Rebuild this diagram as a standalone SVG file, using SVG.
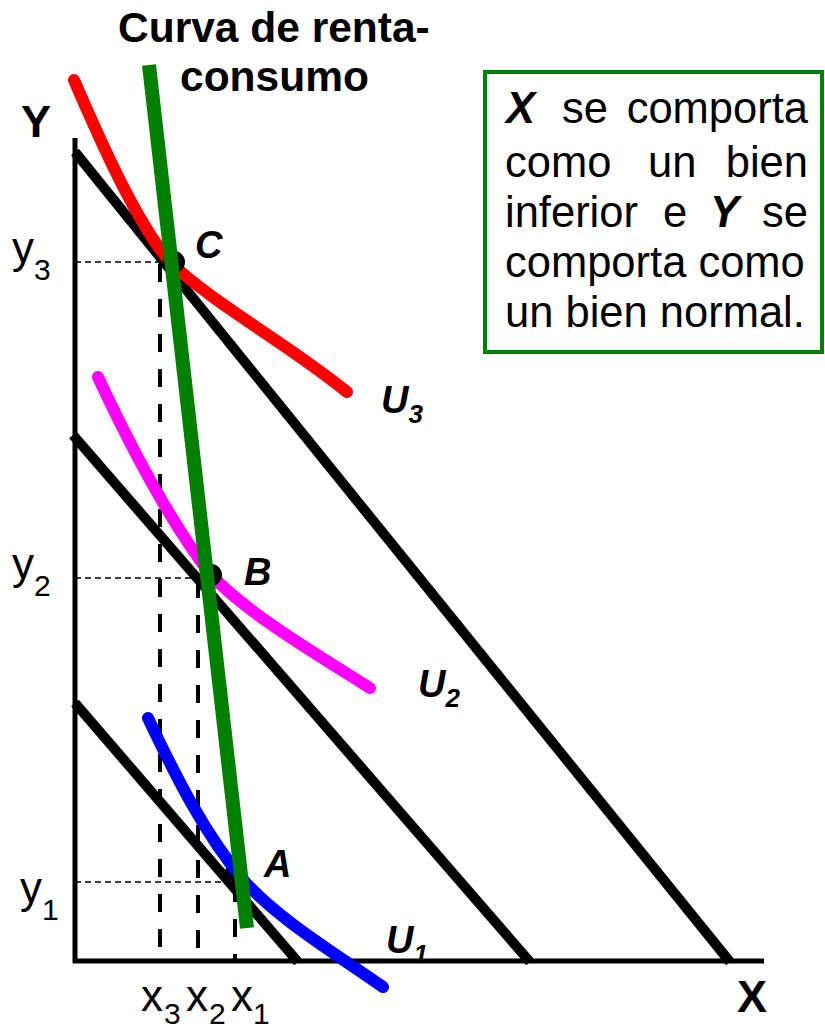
<svg xmlns="http://www.w3.org/2000/svg" width="825" height="1028" viewBox="0 0 825 1028">
<style>
text{font-family:"Liberation Sans",Arial,sans-serif;fill:#000}
.b{font-weight:bold}
.bi{font-weight:bold;font-style:italic}
.axis{stroke:#000;stroke-width:5;fill:none}
.budget{stroke:#000;stroke-width:10;fill:none}
.vd{stroke:#000;stroke-width:4;stroke-dasharray:18 17;fill:none}
.hd{stroke:#000;stroke-width:1.5;stroke-dasharray:6 4;fill:none}
.ic{fill:none;stroke-width:12;stroke-linecap:round;stroke-linejoin:round}
.sub{font-size:30px}
</style>
<rect width="825" height="1028" fill="#fff"/>
<g id="axes">
<line class="axis" x1="75" y1="138" x2="75" y2="963"/>
<line class="axis" x1="73" y1="961" x2="764" y2="961"/>
</g>
<g id="guides">
<line class="hd" x1="75" y1="262" x2="172" y2="262"/>
<line class="hd" x1="75" y1="578" x2="208" y2="578"/>
<line class="hd" x1="75" y1="882" x2="238" y2="882"/>
<line class="vd" x1="160" y1="264" x2="160" y2="961"/>
<line class="vd" x1="198" y1="580" x2="198" y2="961"/>
<line class="vd" x1="235" y1="884" x2="235" y2="961"/>
</g>
<g id="budget-lines">
<line class="budget" x1="75" y1="152" x2="730" y2="962"/>
<line class="budget" x1="73" y1="435" x2="530" y2="962"/>
<line class="budget" x1="75" y1="703" x2="298" y2="962"/>
</g>
<g id="dotA"><circle cx="234" cy="872" r="9"/></g>
<g id="U1"><path class="ic" stroke="#0000ff" d="M148,718 C175,775 205,835 245,882 C280,920 330,950 383,987"/></g>
<g id="U2"><path class="ic" stroke="#ff00ff" d="M98,377 C125,435 165,515 211,575 C250,615 310,650 370,688"/></g>
<g id="U3"><path class="ic" stroke="#ff0000" d="M74,80 C100,140 135,220 170,262 C215,305 290,345 347,392"/></g>
<g id="dotC"><circle cx="174" cy="262" r="11"/></g>
<g id="dotB"><circle cx="211" cy="575" r="11"/></g>
<g id="curva-renta-consumo"><line x1="149" y1="65" x2="247" y2="928" stroke="#008000" stroke-width="14"/></g>
<g id="labels">
<text class="b" x="118" y="42" font-size="42.5">Curva de renta-</text>
<text class="b" x="180" y="91" font-size="42.5">consumo</text>
<text class="b" x="21" y="137" font-size="45">Y</text>
<text class="b" x="737" y="1012" font-size="45">X</text>
<text x="12" y="263" font-size="44">y<tspan class="sub" dy="17">3</tspan></text>
<text x="12" y="579" font-size="44">y<tspan class="sub" dy="17">2</tspan></text>
<text x="20" y="903" font-size="44">y<tspan class="sub" dy="17">1</tspan></text>
<text font-size="44">
<tspan x="141" y="1011">x</tspan><tspan class="sub" x="164" y="1024">3</tspan>
<tspan x="186" y="1011">x</tspan><tspan class="sub" x="209" y="1024">2</tspan>
<tspan x="231" y="1011">x</tspan><tspan class="sub" x="253" y="1024">1</tspan>
</text>
<text class="bi" x="195" y="258" font-size="38">C</text>
<text class="bi" x="244" y="585" font-size="38">B</text>
<text class="bi" x="264" y="877" font-size="38">A</text>
<text class="bi" x="381" y="413" font-size="38">U<tspan font-size="26" dy="10">3</tspan></text>
<text class="bi" x="418" y="697" font-size="38">U<tspan font-size="26" dy="10">2</tspan></text>
<text class="bi" x="386" y="953" font-size="38">U<tspan font-size="26" dy="10">1</tspan></text>
</g>
<g id="note">
<rect x="485" y="72" width="337" height="280" fill="#fff" stroke="#008000" stroke-width="4"/>
<text font-size="43.5">
<tspan class="bi" x="506" y="123">X</tspan>
<tspan x="562" y="123">se</tspan>
<tspan x="808" y="123" text-anchor="end">comporta</tspan>
</text>
<text font-size="43.5">
<tspan x="505" y="177">como</tspan>
<tspan x="648" y="177">un</tspan>
<tspan x="808" y="177" text-anchor="end">bien</tspan>
</text>
<text font-size="43.5">
<tspan x="505" y="227">inferior</tspan>
<tspan x="663" y="227">e</tspan>
<tspan class="bi" x="710" y="227">Y</tspan>
<tspan x="808" y="227" text-anchor="end">se</tspan>
</text>
<text font-size="43.5" x="505" y="277">comporta como</text>
<text font-size="43.5" x="505" y="327">un bien normal.</text>
</g>
</svg>
